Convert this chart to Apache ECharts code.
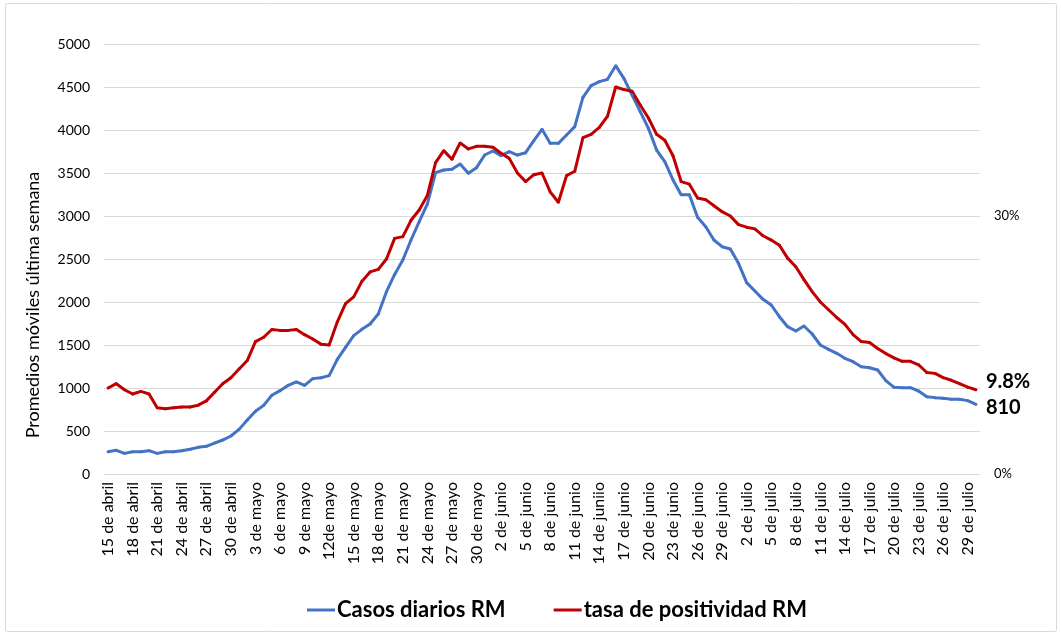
<!DOCTYPE html>
<html>
<head>
<meta charset="utf-8">
<script src="https://cdn.jsdelivr.net/npm/echarts@6/dist/echarts.min.js"></script>
<style>
  html, body { margin: 0; padding: 0; background: #fff; }
  #chart { width: 1062px; height: 636px; }
</style>
</head>
<body>
<div id="chart"></div>
<script>
// visible tick labels (every 3rd day, as printed in the original)
const tickLabels = [
  "15 de abril", "18 de abril", "21 de abril", "24 de abril", "27 de abril", "30 de abril",
  "3 de mayo", "6 de mayo", "9 de mayo", "12de mayo", "15 de mayo", "18 de mayo",
  "21 de mayo", "24 de mayo", "27 de mayo", "30 de mayo", "2 de junio", "5 de junio",
  "8 de junio", "11 de junio", "14 de juniio", "17 de junio", "20 de junio", "23 de junio",
  "26 de junio", "29 de junio", "2 de julio", "5 de julio", "8 de julio", "11 de julio",
  "14 de julio", "17 de julio", "20 de julio", "23 de julio", "26 de julio", "29 de julio"
];

// daily categories: 15 April .. 30 July
const months = [["abril", 15, 30], ["mayo", 1, 31], ["junio", 1, 30], ["julio", 1, 30]];
const days = [];
months.forEach(([m, a, b]) => {
  for (let d = a; d <= b; d++) days.push(d + " de " + m);
});

// Casos diarios RM (promedio móvil 7 días)
const casosRM = [
  259, 275, 240, 259, 259, 271, 240, 259, 259, 271,
  287, 310, 322, 360, 395, 442, 519, 628, 729, 798,
  915, 969, 1031, 1070, 1031, 1109, 1120, 1144, 1333, 1473,
  1609, 1682, 1744, 1860, 2120, 2320, 2488, 2721, 2934, 3140,
  3504, 3535, 3543, 3605, 3496, 3562, 3709, 3756, 3702, 3748,
  3709, 3736, 3876, 4008, 3845, 3845, 3942, 4039, 4380, 4516,
  4562, 4589, 4748, 4601, 4407, 4213, 4019, 3767, 3632, 3419,
  3248, 3248, 2985, 2876, 2721, 2643, 2616, 2450, 2225, 2128,
  2031, 1965, 1829, 1713, 1663, 1721, 1628, 1500, 1450, 1403,
  1345, 1306, 1248, 1236, 1209, 1085, 1008, 1004, 1004, 965,
  899, 888, 880, 868, 868, 853, 810
];

// tasa de positividad RM (%)
const positividadRM = [
  10.0, 10.5, 9.8, 9.3, 9.6, 9.3, 7.7, 7.6, 7.7, 7.8,
  7.8, 8.0, 8.5, 9.5, 10.5, 11.2, 12.2, 13.2, 15.4, 15.9,
  16.8, 16.7, 16.7, 16.8, 16.2, 15.7, 15.1, 15.0, 17.7, 19.8,
  20.6, 22.4, 23.5, 23.8, 25.0, 27.4, 27.6, 29.5, 30.7, 32.4,
  36.2, 37.6, 36.6, 38.5, 37.8, 38.1, 38.1, 38.0, 37.3, 36.7,
  35.0, 34.0, 34.8, 35.0, 32.8, 31.6, 34.7, 35.2, 39.1, 39.5,
  40.3, 41.6, 45.0, 44.7, 44.5, 42.9, 41.4, 39.5, 38.8, 37.0,
  34.0, 33.7, 32.1, 31.9, 31.2, 30.5, 30.0, 29.0, 28.7, 28.5,
  27.7, 27.2, 26.6, 25.1, 24.1, 22.6, 21.2, 20.0, 19.1, 18.2,
  17.4, 16.2, 15.4, 15.3, 14.6, 14.0, 13.5, 13.1, 13.1, 12.7,
  11.8, 11.7, 11.2, 10.9, 10.5, 10.1, 9.8
];

const FONT = "Lato, 'Open Sans', sans-serif";
const BLUE = "#4472C4";
const RED = "#C00000";

const chart = echarts.init(document.getElementById("chart"));

chart.setOption({
  animation: false,
  textStyle: { fontFamily: FONT },
  graphic: [{
    type: "rect",
    shape: { x: 5.5, y: 3.5, width: 1051, height: 628, r: 2 },
    style: { fill: "none", stroke: "#d9d9d9", lineWidth: 1 },
    silent: true
  }, {
    // y axis title, placed like the original (a bit below the plot's centre)
    type: "text",
    x: 33,
    y: 305,
    rotation: Math.PI / 2,
    style: {
      text: "Promedios móviles última semana",
      fontSize: 18,
      fontFamily: FONT,
      fill: "#000",
      align: "center",
      verticalAlign: "middle"
    },
    silent: true
  }],
  grid: { left: 104, right: 82, top: 44, bottom: 162 },
  legend: {
    left: 302,
    top: 594,
    itemGap: 48,
    itemWidth: 28,
    itemHeight: 3,
    icon: "rect",
    textStyle: { fontSize: 22, fontWeight: "bold", color: "#000", fontFamily: FONT, padding: [0, 0, 0, -3] },
    data: ["Casos diarios RM", "tasa de positividad RM"]
  },
  xAxis: {
    type: "category",
    data: days,
    boundaryGap: true,
    axisLine: { lineStyle: { color: "#d9d9d9" } },
    axisTick: { show: false },
    axisLabel: {
      interval: 2,
      rotate: 90,
      margin: 8,
      fontSize: 16,
      color: "#000",
      formatter: (v, idx) => tickLabels[idx / 3] || ""
    }
  },
  yAxis: [{
    type: "value",
    min: 0,
    max: 5000,
    interval: 500,
    axisLine: { show: false },
    axisTick: { show: false },
    axisLabel: { fontSize: 14, color: "#000", margin: 14, formatter: (v) => String(v) },
    splitLine: { lineStyle: { color: "#d9d9d9" } }
  }, {
    type: "value",
    min: 0,
    max: 50,
    interval: 10,
    position: "right",
    axisLine: { show: false },
    axisTick: { show: false },
    splitLine: { show: false },
    axisLabel: {
      fontSize: 13,
      color: "#000",
      margin: 14,
      formatter: (v) => (v === 0 || v === 30) ? v + "%" : ""
    }
  }],
  series: [{
    name: "Casos diarios RM",
    type: "line",
    data: casosRM,
    symbol: "circle",
    symbolSize: 3,
    lineStyle: { color: BLUE, width: 3 },
    itemStyle: { color: BLUE },
    endLabel: {
      show: true,
      formatter: "810",
      distance: 10,
      offset: [0, 3],
      fontSize: 20,
      fontWeight: "bold",
      color: "#000"
    }
  }, {
    name: "tasa de positividad RM",
    type: "line",
    yAxisIndex: 1,
    data: positividadRM,
    symbol: "circle",
    symbolSize: 3,
    lineStyle: { color: RED, width: 3 },
    itemStyle: { color: RED },
    endLabel: {
      show: true,
      formatter: "9.8%",
      distance: 10,
      offset: [0, -8],
      fontSize: 20,
      fontWeight: "bold",
      color: "#000"
    }
  }]
});

window.addEventListener("resize", () => chart.resize());
</script>
</body>
</html>
